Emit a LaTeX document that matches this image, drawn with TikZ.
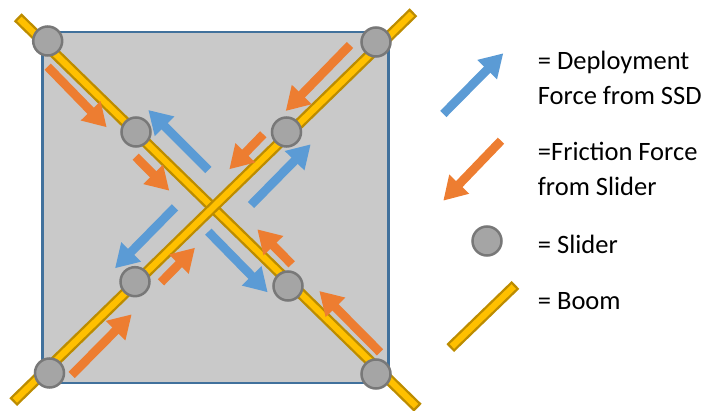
\documentclass[tikz,border=0pt]{standalone}
\usepackage{fontspec}
\setmainfont{Carlito}
\usetikzlibrary{arrows.meta,calc}
\definecolor{panelgray}{HTML}{C9C9C9}
\definecolor{panelblue}{HTML}{41719C}
\definecolor{forceblue}{HTML}{5B9BD5}
\definecolor{forceorange}{HTML}{ED7D31}
\definecolor{boomyellow}{HTML}{FFC000}
\definecolor{boomedge}{HTML}{BC8C00}
\definecolor{slidergray}{HTML}{A5A5A5}
\definecolor{slideredge}{HTML}{787878}
\tikzset{
	force/.style={line width=8.8pt,-{Triangle[length=23pt,width=26pt]}},
	deploy/.style={force,draw=forceblue},
	friction/.style={force,draw=forceorange},
	slider/.style={circle,draw=slideredge,fill=slidergray,line width=2.5pt,minimum size=29pt,inner sep=0pt},
	boomline/.style={draw=boomedge,fill=boomyellow,line width=2.2pt},
	legend/.style={anchor=base west,inner sep=0pt,font=\fontsize{26.5}{30}\selectfont}
}
\newcommand{\boom}[2]{\filldraw[boomline] ($(#1)!4.4pt!90:(#2)$) -- ($(#1)!4.4pt!-90:(#2)$) -- ($(#2)!4.4pt!90:(#1)$) -- ($(#2)!4.4pt!-90:(#1)$) -- cycle;}
\begin{document}
\begin{tikzpicture}[x=1pt,y=-1pt]
	\useasboundingbox (0,0) rectangle (704,411);
	\filldraw[fill=panelgray,draw=panelblue,line width=2.4pt] (42.3,32.3) rectangle (388.5,383.3);
	% booms
	\coordinate (tl) at (18.5,18);
	\coordinate (br) at (417,407);
	\coordinate (tr) at (412.7,13);
	\coordinate (bl) at (14,401.3);
	\boom{tl}{br}
	\boom{tr}{bl}
	% sliders
	\node[slider] (s1) at (47.7,41) {};
	\node[slider] (s2) at (136,132) {};
	\node[slider] (s3) at (376,42) {};
	\node[slider] (s4) at (286.5,132) {};
	\node[slider] (s5) at (49.5,373) {};
	\node[slider] (s6) at (135,281.7) {};
	\node[slider] (s7) at (376,374) {};
	\node[slider] (s8) at (288,286) {};
	% forces
	\draw[friction] (47.7,66.7) -- (106.7,127.3);
	\draw[friction] (135.7,156.7) -- (169.3,190.7);
	\draw[friction] (350,45) -- (285.7,111);
	\draw[friction] (263.3,134.3) -- (229.3,169.3);
	\draw[friction] (161,282.3) -- (195,247.7);
	\draw[friction] (71.7,375) -- (131.7,314.3);
	\draw[friction] (291.7,264.3) -- (257.3,229.3);
	\draw[friction] (380,352.3) -- (319.3,291);
	\draw[deploy] (208.3,170) -- (148.3,110);
	\draw[deploy] (251,205) -- (310.7,144.3);
	\draw[deploy] (175,207.3) -- (115,268.3);
	\draw[deploy] (208.3,231.7) -- (267.7,292.3);
	% legend
	\draw[deploy] (443.3,114) -- (503.3,53.3);
	\draw[friction] (501,140.7) -- (443.3,200.7);
	\node[slider] (s9) at (487,241) {};
	\coordinate (ba) at (514.7,285.7);
	\coordinate (bb) at (451,347.3);
	\boom{ba}{bb}
	\node[legend] (l1) at (537.7,70) {= Deployment};
	\node[legend] (l2) at (537.7,105) {Force from SSD};
	\node[legend] (l3) at (537.7,161) {=Friction Force};
	\node[legend] (l4) at (537.7,196) {from Slider};
	\node[legend] (l5) at (537.7,254) {= Slider};
	\node[legend] (l6) at (537.7,310) {= Boom};
\end{tikzpicture}
\end{document}
